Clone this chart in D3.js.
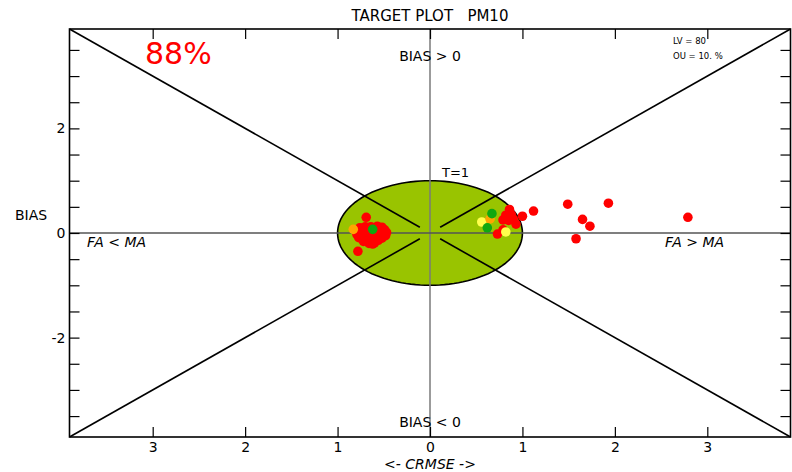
<!DOCTYPE html>
<html>
<head>
<meta charset="utf-8">
<script src="https://cdn.jsdelivr.net/npm/d3@7"></script>
<style>
  html, body { margin: 0; padding: 0; background: #fff; }
  svg { display: block; font-family: "DejaVu Sans", sans-serif; }
  text { white-space: pre; }
</style>
</head>
<body>
<svg id="chart" width="792" height="472"></svg>
<script>
// Target plot for PM10: normalised CRMSE (x, signed by FA/MA) vs normalised BIAS (y)
const title = "TARGET PLOT   PM10";
const scoreLabel = "88%";
const infoLines = ["LV = 80", "OU = 10. %"];

const xTicks = [-3, -2, -1, 0, 1, 2, 3];
const yTicks = [-3.5, -3, -2.5, -2, -1.5, -1, -0.5, 0, 0.5, 1, 1.5, 2, 2.5, 3, 3.5];
const yLabelled = [-2, 0, 2];

// stations coloured by class, [crmse, bias]
const redPoints = [
  [-0.69, 0.30], [-0.78, -0.35],
  [-0.76, 0.10], [-0.70, 0.12], [-0.64, 0.12], [-0.57, 0.13], [-0.52, 0.11],
  [-0.49, 0.06], [-0.47, 0.01], [-0.48, -0.05], [-0.52, -0.10], [-0.56, -0.14],
  [-0.60, -0.19], [-0.66, -0.20], [-0.72, -0.16], [-0.77, -0.09], [-0.79, -0.03],
  [-0.77, 0.03], [-0.72, 0.04], [-0.66, 0.02], [-0.60, 0.05], [-0.56, 0.00],
  [-0.62, -0.08], [-0.70, -0.06], [-0.67, -0.13], [-0.58, -0.11], [-0.54, 0.06],
  [-0.74, -0.02], [-0.63, 0.08], [-0.62, -0.21],
  [0.86, 0.45], [0.82, 0.34], [0.79, 0.25], [0.85, 0.24], [0.90, 0.27],
  [0.93, 0.17], [0.88, 0.35], [1.00, 0.32], [1.12, 0.42], [0.73, -0.02],
  [0.79, 0.06], [1.49, 0.55], [1.93, 0.57], [1.65, 0.26], [1.73, 0.13],
  [1.58, -0.11], [2.79, 0.30]
];
const yellowPoints = [[0.56, 0.21], [0.82, 0.02]];
const orangePoints = [[-0.83, 0.07], [0.65, 0.27]];
const greenPoints = [[-0.62, 0.07], [0.67, 0.37], [0.62, 0.10]];

const svg = d3.select("#chart");
const frameL = 69.5, frameR = 790.5, frameT = 29, frameB = 437;

const x = d3.scaleLinear().domain([-3.9, 3.9]).range([frameL, frameR]);
const y = d3.scaleLinear().domain([-3.9, 3.9]).range([frameB, frameT]);

// target circle T=1
const circle = d3.range(0, 361, 3).map(a => [Math.cos(a * Math.PI / 180), Math.sin(a * Math.PI / 180)]);
svg.append("path")
  .datum(circle)
  .attr("d", d3.line().x(d => x(d[0])).y(d => y(d[1])))
  .attr("fill", "#99c400")
  .attr("stroke", "#000")
  .attr("stroke-width", 1.6);

// centre lines
svg.append("line")
  .attr("x1", x(0)).attr("x2", x(0)).attr("y1", frameT).attr("y2", frameB)
  .attr("stroke", "#7a7a7a").attr("stroke-width", 1.5);
svg.append("line")
  .attr("x1", frameL).attr("x2", frameR).attr("y1", y(0)).attr("y2", y(0))
  .attr("stroke", "#555").attr("stroke-width", 1.5);

// diagonals from the frame corners towards the origin
const corners = [[-3.9, 3.9], [3.9, 3.9], [-3.9, -3.9], [3.9, -3.9]];
const stopAt = 0.11;
corners.forEach(c => {
  const f = stopAt / Math.abs(c[0]);
  svg.append("line")
    .attr("x1", x(c[0])).attr("y1", y(c[1]))
    .attr("x2", x(c[0] * f)).attr("y2", y(c[1] * f))
    .attr("stroke", "#000").attr("stroke-width", 1.6);
});

// axes with inward ticks
const axisStyle = g => {
  g.select(".domain").remove();
  g.selectAll(".tick line").attr("stroke", "#000").attr("stroke-width", 1.2);
  g.selectAll(".tick text").attr("fill", "#000").attr("font-size", 14)
    .attr("font-family", "DejaVu Sans, sans-serif");
};
svg.append("g").attr("transform", `translate(0,${frameB})`)
  .call(d3.axisBottom(x).tickValues(xTicks).tickSize(-10).tickPadding(5)
    .tickFormat(d => String(Math.abs(d))))
  .call(axisStyle);
svg.append("g").attr("transform", `translate(0,${frameT})`)
  .call(d3.axisTop(x).tickValues(xTicks).tickSize(-10).tickFormat(""))
  .call(axisStyle);
svg.append("g").attr("transform", `translate(${frameL},0)`)
  .call(d3.axisLeft(y).tickValues(yTicks).tickSize(-10).tickPadding(4)
    .tickFormat(d => yLabelled.includes(d) ? String(d) : ""))
  .call(axisStyle);
svg.append("g").attr("transform", `translate(${frameR},0)`)
  .call(d3.axisRight(y).tickValues(yTicks).tickSize(-10).tickFormat(""))
  .call(axisStyle);

// frame
svg.append("rect")
  .attr("x", frameL).attr("y", frameT).attr("width", frameR - frameL).attr("height", frameB - frameT)
  .attr("fill", "none").attr("stroke", "#000").attr("stroke-width", 1.6);

// stations
const series = [
  { pts: redPoints, color: "#ff0000" },
  { pts: yellowPoints, color: "#ffff4d" },
  { pts: orangePoints, color: "#ffa500" },
  { pts: greenPoints, color: "#10a810" }
];
series.forEach(s => {
  svg.append("g").selectAll("circle").data(s.pts).join("circle")
    .attr("cx", d => x(d[0])).attr("cy", d => y(d[1]))
    .attr("r", 4.8).attr("fill", s.color);
});

// labels
const text = (tx, ty, str, opts = {}) => svg.append("text")
  .attr("x", tx).attr("y", ty).text(str)
  .attr("font-size", opts.size || 14)
  .attr("text-anchor", opts.anchor || "start")
  .attr("font-style", opts.italic ? "italic" : "normal")
  .attr("fill", opts.color || "#000");

text(430, 21, title, { anchor: "middle", size: 15 });
text(430, 61, "BIAS > 0", { anchor: "middle" });
text(430, 427, "BIAS < 0", { anchor: "middle" });
text(442, 177, "T=1", { size: 13 });
text(87, 247, "FA < MA", { italic: true });
text(665, 247, "FA > MA", { italic: true });
text(15, 220, "BIAS", { size: 14 });
text(430, 469, "<- CRMSE ->", { anchor: "middle", italic: true });
text(145, 64, scoreLabel, { size: 30, color: "#ff0000" });
text(673, 44, infoLines[0], { size: 8.5 });
text(673, 59, infoLines[1], { size: 8.5 });
</script>
</body>
</html>
